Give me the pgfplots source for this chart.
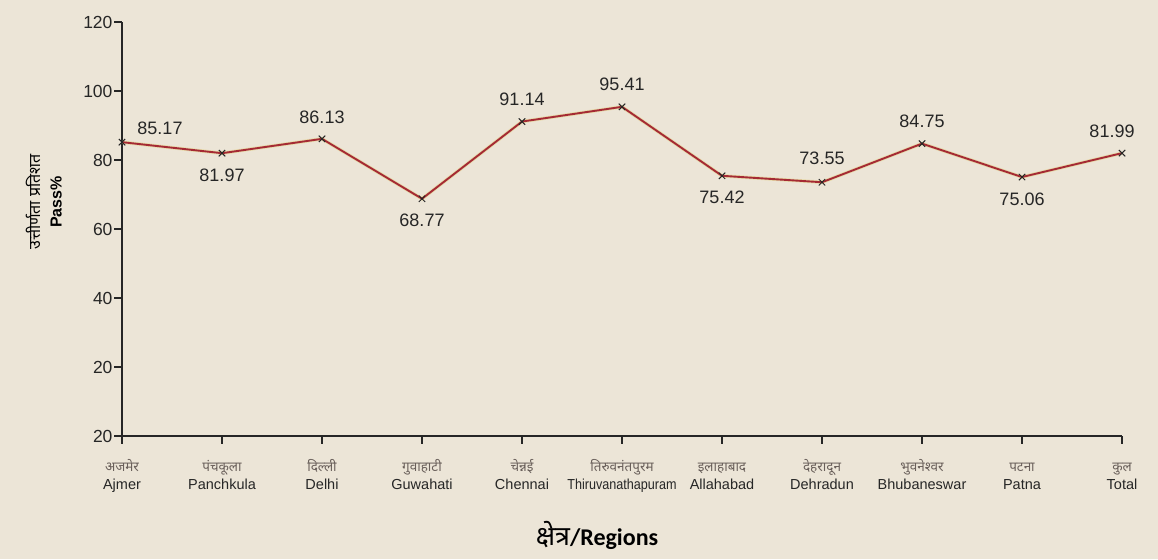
\documentclass[border=0pt]{standalone}
\usepackage{pgfplots}
\pgfplotsset{compat=1.18}
\usepackage{pgfplotstable}
\usepackage{fontspec}
\setmainfont{Liberation Sans}
\newfontfamily\deva[Script=Devanagari]{Noto Sans}
\newfontfamily\carl{Carlito}
\definecolor{bg}{RGB}{236,229,215}
\definecolor{lineRed}{RGB}{165,42,52}
\definecolor{halo}{RGB}{225,205,120}
\definecolor{devgray}{RGB}{105,95,90}
\newcommand{\xl}[2]{{\fontsize{13.5}{18}\selectfont\color{devgray}\deva\strut #1}\\{\strut #2}}
\pgfplotstableread{
x y dx dy
0 85.17 38 14
1 81.97 0 -22
2 86.13 0 22
3 68.77 0 -22
4 91.14 0 22
5 95.41 0 23
6 75.42 0 -22
7 73.55 0 24
8 84.75 0 22
9 75.06 0 -22
10 81.99 -10 22
}\passdata
\begin{document}
\begin{tikzpicture}[x=1pt,y=1pt]
\fill[bg] (0,0) rectangle (1158,559);
\begin{axis}[
  at={(122pt,123pt)}, anchor=south west,
  scale only axis, width=1000pt, height=414pt,
  xmin=0, xmax=10, ymin=0, ymax=120,
  axis x line=bottom, axis y line=left,
  axis line style={-, line width=1.6pt, black!85},
  tick align=outside,
  major tick length=8pt,
  tick style={line width=1.2pt, black!85},
  xtick={0,...,10},
  xticklabels={{\xl{अजमेर}{Ajmer}},{\xl{पंचकूला}{Panchkula}},{\xl{दिल्ली}{Delhi}},{\xl{गुवाहाटी}{Guwahati}},{\xl{चेन्नई}{Chennai}},{\xl{तिरुवनंतपुरम}{\scalebox{0.87}[1]{Thiruvanathapuram}}},{\xl{इलाहाबाद}{Allahabad}},{\xl{देहरादून}{Dehradun}},{\xl{भुवनेश्वर}{Bhubaneswar}},{\xl{पटना}{Patna}},{\xl{कुल}{Total}}},
  xticklabel style={align=center, font=\fontsize{14.5}{18}\selectfont, text=black!85, yshift=-11pt},
  ytick={0,20,40,60,80,100,120},
  yticklabels={20,20,40,60,80,100,120},
  yticklabel style={font=\fontsize{17.5}{20}\selectfont, text=black!85, xshift=2pt},
  /pgf/number format/assume math mode=true,
  /pgf/number format/.cd, fixed, precision=2, fixed zerofill, /pgfplots/.cd,
  clip=false,
]
\addplot[halo, line width=3.4pt, opacity=0.5, forget plot] table[x=x,y=y] {\passdata};
\addplot[lineRed, line width=1.9pt, mark=x, mark size=4.5pt,
  mark options={black!85, line width=1pt},
  visualization depends on={\thisrow{dx} \as \dx},
  visualization depends on={\thisrow{dy} \as \dy},
  nodes near coords,
  every node near coord/.append style={anchor=center, xshift=\dx pt, yshift=\dy pt, font=\fontsize{18}{20}\selectfont, text=black!85},
] table[x=x,y=y] {\passdata};
\end{axis}
\node[rotate=90, align=center] at (44,357) {{\fontsize{16}{20}\selectfont\deva\bfseries उत्तीर्णता प्रतिशत}\\[9pt]{\fontsize{16}{20}\selectfont\bfseries Pass\%}};
\node at (597,24) {{\deva\fontsize{27}{28}\selectfont\bfseries क्षेत्र}{\carl\bfseries\fontsize{24}{26}\selectfont /Regions}};
\end{tikzpicture}
\end{document}
